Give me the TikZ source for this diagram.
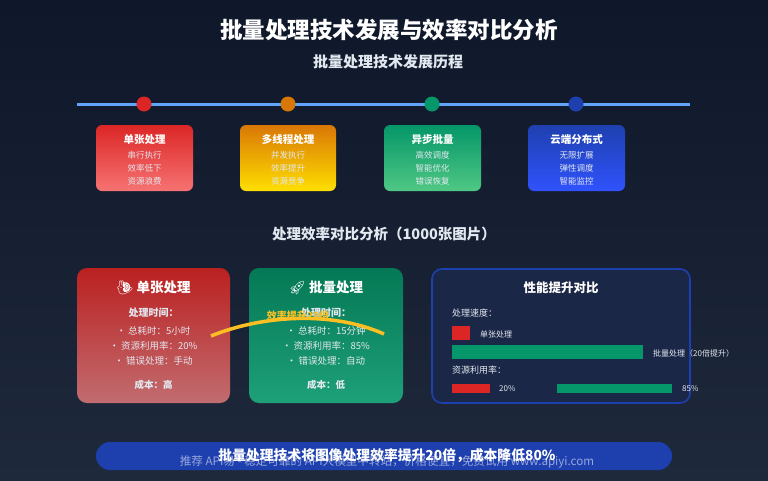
\documentclass[tikz,border=0pt]{standalone}
\usepackage{fontspec}
\setmainfont{Noto Sans CJK SC}
\newfontfamily\emo{Noto Emoji}
\usetikzlibrary{shadings}
\definecolor{bgA}{HTML}{0F172A}
\definecolor{bgB}{HTML}{1E293B}
\definecolor{tl}{HTML}{60A5FA}
\definecolor{cr}{HTML}{DC2626}
\definecolor{co}{HTML}{D97706}
\definecolor{cg}{HTML}{059669}
\definecolor{cb}{HTML}{1E40AF}
\definecolor{panel}{HTML}{1B2747}
\definecolor{arc}{HTML}{FBBF24}
\definecolor{sub}{HTML}{E2E8F0}
\begin{document}
\begin{tikzpicture}[x=1pt,y=-1pt,
  txt/.style={text=white,inner sep=0pt},
  stagebox/.style={rounded corners=6pt,shading angle=45},
  stitle/.style={txt,font=\bfseries\fontsize{10.5}{12}\selectfont},
  sline/.style={txt,text=sub,font=\fontsize{8.5}{10}\selectfont},
  dot/.style={circle,minimum size=15pt,inner sep=0pt},
  big/.style={rounded corners=10pt},
  body/.style={txt,text=sub,font=\fontsize{9.5}{11}\selectfont},
  small/.style={txt,text=sub,font=\fontsize{8}{10}\selectfont,anchor=west}]
\shade[top color=bgA,bottom color=bgB] (0,0) rectangle (768,480);
\useasboundingbox (0,0) rectangle (768,480);
\node[txt,font=\bfseries\fontsize{22.5}{26}\selectfont] (title) at (389,30) {批量处理技术发展与效率对比分析};
\node[txt,text=sub,font=\bfseries\fontsize{15}{18}\selectfont] (subtitle) at (388,62) {批量处理技术发展历程};
\coordinate (tlA) at (77,104); \coordinate (tlB) at (690,104);
\draw[tl,line width=3pt] (tlA) -- (tlB);
\foreach \x/\c/\n in {144/cr/d1,288/co/d2,432/cg/d3,576/cb/d4}
  \node[dot,fill=\c] (\n) at (\x,104) {};
% stage boxes
\shade[stagebox,top color=cr,bottom color=red!45!white!75!cr] (96,125) rectangle (193,191);
\shade[stagebox,top color=co,bottom color=yellow!75!orange] (240,125) rectangle (336,191);
\shade[stagebox,top color=cg,bottom color=cg!75!green!70!white] (384,125) rectangle (481,191);
\shade[stagebox,top color=cb,bottom color=tl!50!blue] (528,125) rectangle (625,191);
\foreach \x/\t/\a/\b/\c/\n in {144.5/单张处理/串行执行/效率低下/资源浪费/s1,288/多线程处理/并发执行/效率提升/资源竞争/s2,432.5/异步批量/高效调度/智能优化/错误恢复/s3,576.5/云端分布式/无限扩展/弹性调度/智能监控/s4}{
  \node[stitle] (\n t) at (\x,140) {\t};
  \node[sline] (\n a) at (\x,155) {\a};
  \node[sline] (\n b) at (\x,168) {\b};
  \node[sline] (\n c) at (\x,181) {\c};
}
\node[txt,text=sub,font=\bfseries\fontsize{14.5}{17}\selectfont] (sec) at (384,234) {处理效率对比分析（1000张图片）};
% big boxes
\shade[big,shading angle=45,top color=cr!85!black,bottom color=cr!60!white!80!bgB] (77,268) rectangle (230,403);
\shade[big,shading angle=45,top color=cg!80!black,bottom color=cg!90!white] (249,268) rectangle (403,403);
\draw[big,fill=panel,draw=cb,line width=1.6pt] (432,269) rectangle (690,403);
\node[txt,font=\bfseries\fontsize{13.5}{15}\selectfont] (rt) at (153.5,288) {{\emo 🐌} 单张处理};
\node[body,font=\bfseries\fontsize{10}{12}\selectfont] (rh) at (153.5,313) {处理时间：};
\node[body] (r1) at (153.5,331) {• 总耗时：5小时};
\node[body] (r2) at (153.5,346) {• 资源利用率：20\%};
\node[body] (r3) at (153.5,361) {• 错误处理：手动};
\node[body,font=\bfseries\fontsize{9.5}{11}\selectfont] (rc) at (153.5,385) {成本：高};
\node[txt,font=\bfseries\fontsize{13.5}{15}\selectfont] (gt) at (326,288) {{\emo 🚀} 批量处理};
\node[body,font=\bfseries\fontsize{10}{12}\selectfont] (gh) at (326,313) {处理时间：};
\node[body] (g1) at (326,331) {• 总耗时：15分钟};
\node[body] (g2) at (326,346) {• 资源利用率：85\%};
\node[body] (g3) at (326,361) {• 错误处理：自动};
\node[body,font=\bfseries\fontsize{9.5}{11}\selectfont] (gc) at (326,385) {成本：低};
% arc
\coordinate (aA) at (211,336); \coordinate (aB) at (384,334);
\draw[arc,line width=3.5pt] (aA) .. controls (260,316) and (330,310) .. (aB);
\node[txt,text=arc,font=\bfseries\fontsize{10}{12}\selectfont] (al) at (298,316) {效率提升20倍};
% right panel
\node[txt,font=\bfseries\fontsize{12.5}{14}\selectfont] (pt) at (561,288) {性能提升对比};
\node[small,font=\fontsize{9}{11}\selectfont] (ps) at (452,313) {处理速度：};
\fill[cr] (452,326) rectangle (470,340);
\node[small] (l1) at (480,334) {单张处理};
\fill[cg] (452,345) rectangle (643,359);
\node[small] (l2) at (653,353) {批量处理（20倍提升）};
\node[small,font=\fontsize{9}{11}\selectfont] (pr) at (452,370) {资源利用率：};
\fill[cr] (452,384) rectangle (490,393);
\node[small] (l3) at (499,389) {20\%};
\fill[cg] (557,384) rectangle (672,393);
\node[small] (l4) at (682,389) {85\%};
% bottom bar
\fill[cb,rounded corners=14pt] (96,442) rectangle (672,470);
\node[txt,font=\bfseries\fontsize{13.8}{16}\selectfont] (bt) at (387,456) {批量处理技术将图像处理效率提升20倍，成本降低80\%};
\node[txt,text=white,opacity=0.55,font=\fontsize{11.6}{13}\selectfont] (wm) at (387,462) {推荐 API易 - 稳定可靠的 API大模型中转站，价格便宜，免费试用 www.apiyi.com};
\end{tikzpicture}
\end{document}
